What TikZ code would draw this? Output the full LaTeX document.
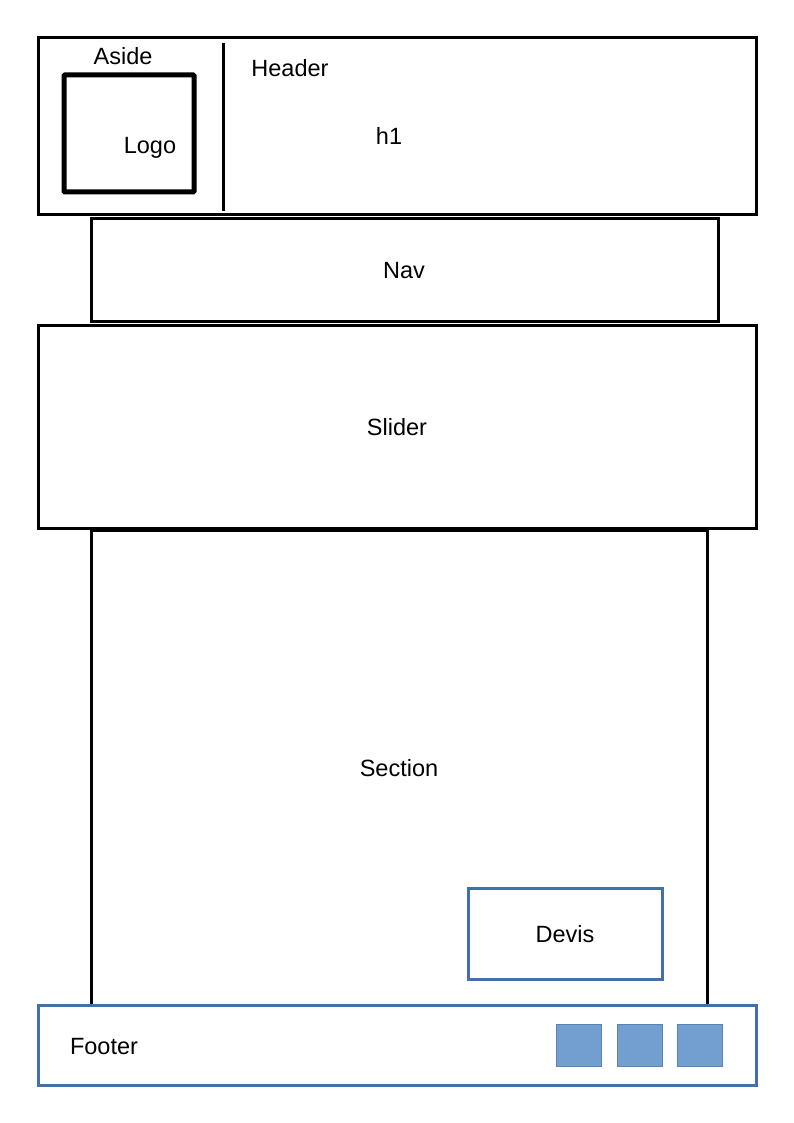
\documentclass[tikz,border=0pt]{standalone}
\usepackage{fontspec}
\setmainfont{Liberation Sans}
\definecolor{bluebd}{HTML}{4470AA}
\definecolor{bluefill}{HTML}{729FCF}
\definecolor{bluesq}{HTML}{5A82B8}
\begin{document}
\begin{tikzpicture}[x=1pt,y=-1pt,
  box/.style={draw=black,line width=3pt,anchor=north west,inner sep=0pt,outer sep=0pt},
  bbox/.style={draw=bluebd,line width=3pt,anchor=north west,inner sep=0pt,outer sep=0pt},
  sq/.style={draw=bluesq,fill=bluefill,line width=1pt,anchor=north west,inner sep=0pt,outer sep=0pt,minimum width=45pt,minimum height=42pt},
  lbl/.style={font=\fontsize{23.5}{28}\selectfont,inner sep=0pt}]
\useasboundingbox (0,0) rectangle (794,1123);
\fill[white] (0,0) rectangle (794,1123);
% header
\node[box,minimum width=718pt,minimum height=177pt] (header) at (38,38) {};
\draw[line width=3pt] (223,43) -- (223,211);
\node[draw=black,line width=5pt,anchor=north west,inner sep=0pt,outer sep=0pt,minimum width=130pt,minimum height=117pt,rounded corners=1pt] (logo) at (64,75) {};
\node[lbl] (aside) at (123,56) {Aside};
\node[lbl] (headerlbl) at (290,68) {Header};
\node[lbl] (h1) at (389,136) {h1};
\node[lbl] (logolbl) at (150,148) {Logo};
% nav
\node[box,minimum width=627pt,minimum height=102pt] (nav) at (91,219) {};
\node[lbl] (navlbl) at (404,271) {Nav};
% slider
\node[box,minimum width=718pt,minimum height=203pt] (slider) at (38,325) {};
\node[lbl] (sliderlbl) at (397,427) {Slider};
% section
\node[box,minimum width=616pt,minimum height=475pt] (section) at (91,530) {};
\node[lbl] (sectionlbl) at (399,768) {Section};
\node[bbox,minimum width=194pt,minimum height=91pt] (devis) at (468,888) {};
\node[lbl] (devislbl) at (565,934) {Devis};
% footer
\node[bbox,minimum width=718pt,minimum height=80pt] (footer) at (38,1005) {};
\node[lbl] (footerlbl) at (104,1047) {Footer};
\node[sq] (s1) at (556,1024) {};
\node[sq] (s2) at (617,1024) {};
\node[sq] (s3) at (677,1024) {};
\end{tikzpicture}
\end{document}
